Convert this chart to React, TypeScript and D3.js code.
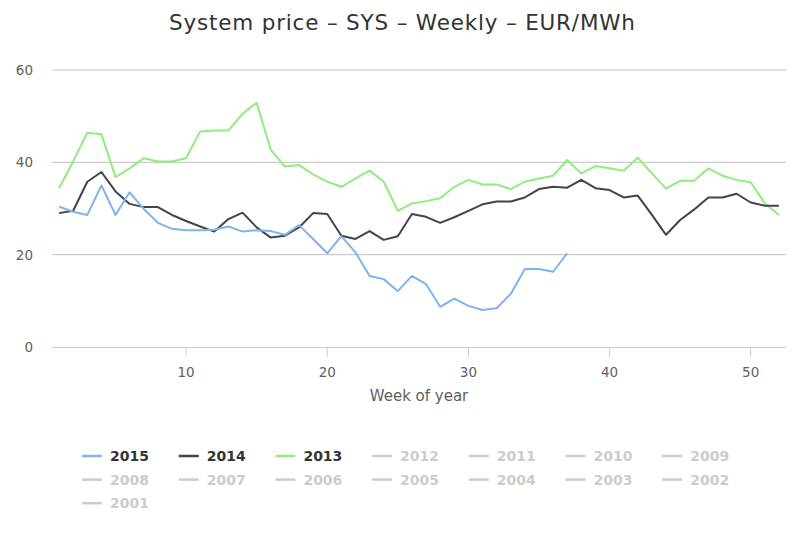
import React, { useEffect } from 'react';
import * as d3 from 'd3';

// Weekly system price, EUR/MWh, week 1..n
const prices2015 = [30.4, 29.3, 28.6, 35.0, 28.6, 33.5, 29.9, 26.9, 25.6, 25.3, 25.3, 25.4, 26.1, 25.0, 25.3, 25.1, 24.3, 26.4, 23.4, 20.3, 24.0, 20.5, 15.4, 14.7, 12.1, 15.4, 13.6, 8.7, 10.5, 8.9, 8.0, 8.4, 11.5, 16.9, 16.9, 16.3, 20.3];
const prices2014 = [29.0, 29.5, 35.8, 37.9, 33.7, 31.0, 30.3, 30.3, 28.6, 27.3, 26.1, 25.0, 27.7, 29.1, 25.9, 23.7, 24.1, 25.9, 29.0, 28.8, 24.1, 23.4, 25.1, 23.2, 24.0, 28.8, 28.2, 26.9, 28.1, 29.5, 30.9, 31.5, 31.5, 32.4, 34.2, 34.7, 34.5, 36.2, 34.4, 34.0, 32.4, 32.8, 28.6, 24.3, 27.5, 29.8, 32.4, 32.4, 33.2, 31.3, 30.6, 30.6];
const prices2013 = [34.4, 40.2, 46.4, 46.1, 36.8, 38.7, 40.9, 40.2, 40.2, 40.9, 46.7, 46.9, 46.9, 50.5, 52.9, 42.7, 39.1, 39.4, 37.4, 35.8, 34.7, 36.5, 38.2, 35.8, 29.5, 31.1, 31.6, 32.2, 34.7, 36.2, 35.2, 35.2, 34.2, 35.8, 36.5, 37.1, 40.5, 37.6, 39.2, 38.7, 38.2, 41.0, 37.6, 34.3, 36.0, 36.0, 38.7, 37.1, 36.2, 35.7, 31.1, 28.6];

const legendYears = ['2015', '2014', '2013', '2012', '2011', '2010', '2009', '2008', '2007', '2006', '2005', '2004', '2003', '2002', '2001'];
const visibleYears = ['2015', '2014', '2013'];
const xTicks = [10, 20, 30, 40, 50];
const yTicks = [0, 20, 40, 60];

const series = [
  { year: '2015', values: prices2015, color: '#7cb5ec' },
  { year: '2014', values: prices2014, color: '#434348' },
  { year: '2013', values: prices2013, color: '#90ed7d' },
];

const W = 800;
const H = 533;
const margin = { top: 70, right: 14, bottom: 186, left: 52 };
const font = '"DejaVu Sans", sans-serif';

export default function App() {
  useEffect(() => {
    document.body.style.margin = '0';
  }, []);

  const x = d3.scaleLinear().domain([0.5, 52.5]).range([margin.left, W - margin.right]);
  const y = d3.scaleLinear().domain([0, 60]).range([H - margin.bottom, margin.top]);

  const line = d3.line<number>()
    .x((_, i) => x(i + 1))
    .y(d => y(d));

  const colorOf = (yr: string) => series.find(s => s.year === yr)?.color ?? '#cccccc';

  return (
    <svg width={W} height={H} style={{ display: 'block', fontFamily: font }}>
      <rect width={W} height={H} fill="#fff" />
      <text x={402} y={30} textAnchor="middle" fontSize={21.5} fill="#333333"
        textLength={466} lengthAdjust="spacing">
        System price – SYS – Weekly – EUR/MWh
      </text>

      {/* grid + y labels */}
      {yTicks.map(t => (
        <g key={t}>
          {t !== 0 && (
            <line x1={margin.left} x2={W - margin.right} y1={y(t)} y2={y(t)} stroke="#c0c0c0" strokeWidth={1} />
          )}
          <text x={33} y={y(t) + 5} textAnchor="end" fontSize={13.5} fill="#606060">{t}</text>
        </g>
      ))}

      {/* x axis */}
      <line x1={margin.left} x2={W - margin.right} y1={y(0) + 0.5} y2={y(0) + 0.5} stroke="#c0d0e0" strokeWidth={1} />
      {xTicks.map(t => (
        <g key={t}>
          <line x1={x(t)} x2={x(t)} y1={y(0)} y2={y(0) + 10} stroke="#c0d0e0" strokeWidth={1} />
          <text x={x(t)} y={y(0) + 30} textAnchor="middle" fontSize={13.5} fill="#606060">{t}</text>
        </g>
      ))}
      <text x={(margin.left + W - margin.right) / 2} y={401} textAnchor="middle" fontSize={15} fill="#606060">
        Week of year
      </text>

      {/* lines, drawn oldest first */}
      {[...series].reverse().map(s => (
        <path key={s.year} d={line(s.values) ?? ''} fill="none" stroke={s.color} strokeWidth={2} strokeLinejoin="round" />
      ))}

      {/* legend */}
      {legendYears.map((yr, i) => {
        const col = i % 7;
        const row = Math.floor(i / 7);
        const lx = 82 + col * 96.7;
        const ly = 456 + row * 23.6;
        const on = visibleYears.includes(yr);
        return (
          <g key={yr}>
            <line x1={lx} x2={lx + 20} y1={ly} y2={ly} stroke={on ? colorOf(yr) : '#cccccc'} strokeWidth={2.5} />
            <text x={lx + 28} y={ly + 5} fontSize={14} fontWeight="bold" fill={on ? '#333333' : '#cccccc'}>{yr}</text>
          </g>
        );
      })}
    </svg>
  );
}
